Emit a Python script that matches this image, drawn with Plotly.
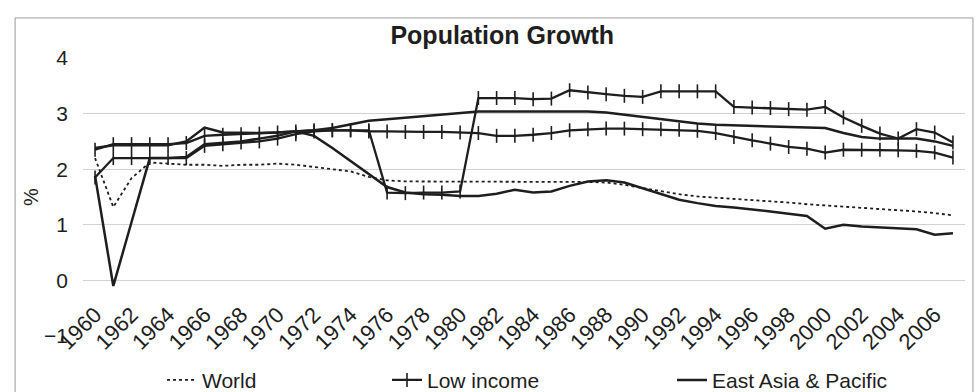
import plotly.graph_objects as go

years = list(range(1960, 2008))

world = [2.20, 1.32, 1.84, 2.12, 2.10, 2.08, 2.08, 2.06, 2.08, 2.08,
         2.10, 2.08, 2.04, 2.00, 1.96, 1.86, 1.80, 1.78, 1.78, 1.78,
         1.78, 1.77, 1.77, 1.77, 1.77, 1.77, 1.77, 1.77, 1.76, 1.72,
         1.66, 1.60, 1.55, 1.51, 1.49, 1.47, 1.45, 1.43, 1.40, 1.37,
         1.35, 1.32, 1.30, 1.28, 1.26, 1.24, 1.21, 1.17]

low_income = [1.85, 2.20, 2.20, 2.20, 2.20, 2.20, 2.42, 2.45, 2.48, 2.50,
              2.55, 2.63, 2.68, 2.70, 2.70, 2.68, 2.68, 2.67, 2.67, 2.67,
              2.66, 2.65, 2.60, 2.60, 2.62, 2.65, 2.70, 2.72, 2.73, 2.73,
              2.72, 2.72, 2.71, 2.69, 2.65, 2.58, 2.52, 2.46, 2.40, 2.37,
              2.30, 2.35, 2.35, 2.35, 2.34, 2.33, 2.30, 2.21]

east_asia = [1.88, -0.10, 1.05, 2.20, 2.20, 2.22, 2.45, 2.48, 2.50, 2.55,
             2.60, 2.68, 2.60, 2.38, 2.15, 1.92, 1.68, 1.58, 1.55, 1.54,
             1.52, 1.52, 1.56, 1.63, 1.58, 1.60, 1.70, 1.78, 1.80, 1.76,
             1.66, 1.55, 1.45, 1.39, 1.34, 1.31, 1.28, 1.24, 1.20, 1.16,
             0.93, 1.00, 0.97, 0.95, 0.94, 0.92, 0.82, 0.85]

# two further series drawn in the chart whose legend entries are not visible
series_a = [2.35, 2.45, 2.45, 2.45, 2.45, 2.47, 2.60, 2.62, 2.63, 2.64,
            2.66, 2.68, 2.70, 2.70, 2.70, 2.70, 1.58, 1.57, 1.58, 1.58,
            1.60, 3.28, 3.28, 3.28, 3.26, 3.27, 3.42, 3.38, 3.35, 3.32,
            3.30, 3.40, 3.40, 3.40, 3.40, 3.12, 3.11, 3.10, 3.08, 3.07,
            3.12, 2.93, 2.78, 2.64, 2.55, 2.72, 2.66, 2.48]

series_b = [2.38, 2.43, 2.43, 2.43, 2.43, 2.50, 2.75, 2.66, 2.65, 2.65,
            2.66, 2.68, 2.70, 2.74, 2.80, 2.87, 2.90, 2.93, 2.96, 2.99,
            3.02, 3.04, 3.04, 3.04, 3.05, 3.05, 3.05, 3.04, 3.02, 2.98,
            2.93, 2.89, 2.85, 2.82, 2.80, 2.79, 2.78, 2.78, 2.77, 2.76,
            2.74, 2.65, 2.58, 2.55, 2.55, 2.55, 2.50, 2.42]

x_ticks = list(range(1960, 2007, 2))
y_ticks = [0, 1, 2, 3, 4]
y_low_tick = [-1]
y_range = [-1, 4]

ink = "#1e1e1e"
plus_marker = dict(symbol="line-ns", size=10, color=ink, line=dict(width=1.6, color=ink))

fig = go.Figure()
fig.add_trace(go.Scatter(x=years, y=series_b, mode="lines", showlegend=False, yaxis="y2",
                         line=dict(color=ink, width=2.5), hoverinfo="skip"))
fig.add_trace(go.Scatter(x=years, y=series_a, mode="lines+markers", showlegend=False,
                         line=dict(color=ink, width=2.3), marker=plus_marker, hoverinfo="skip"))
fig.add_trace(go.Scatter(x=years, y=world, name="World", mode="lines", legend="legend",
                         line=dict(color=ink, width=1.8, dash="dot")))
fig.add_trace(go.Scatter(x=years, y=low_income, name="Low income", mode="lines+markers",
                         legend="legend2", line=dict(color=ink, width=2.3), marker=plus_marker))
fig.add_trace(go.Scatter(x=years, y=east_asia, name="East Asia & Pacific", mode="lines",
                         legend="legend3", line=dict(color=ink, width=2.5)))

legend_common = dict(orientation="h", xref="container", yref="container", y=0.03,
                     yanchor="middle", xanchor="left", bgcolor="rgba(0,0,0,0)",
                     font=dict(size=21, color=ink), itemwidth=30)

fig.update_layout(
    width=979, height=392,
    margin=dict(l=83, r=14, t=58, b=56, autoexpand=False),
    paper_bgcolor="white", plot_bgcolor="white",
    font=dict(family="Liberation Sans, Arial, sans-serif", color=ink),
    title=dict(text="<b>Population Growth</b>", x=0.513, xref="container", xanchor="center",
               y=0.91, yref="container", yanchor="middle", font=dict(size=25, color=ink)),
    xaxis=dict(range=[1959.34, 2007.66], tickvals=x_ticks, tickangle=-45,
               anchor="free", position=0.142, showgrid=False, zeroline=False,
               showline=False, ticks="", tickfont=dict(size=22, color=ink)),
    yaxis=dict(range=y_range, tickvals=y_ticks, showgrid=True, gridcolor="#d2d2d2",
               gridwidth=1, zeroline=False, showline=False, ticks="",
               ticklabelstandoff=14, tickfont=dict(size=21, color=ink),
               title=dict(text="%", font=dict(size=20, color=ink), standoff=12)),
    yaxis2=dict(overlaying="y", side="left", range=y_range, tickvals=y_low_tick,
                showgrid=False, zeroline=False, showline=False, ticks="",
                ticklabelstandoff=14, tickfont=dict(size=21, color=ink)),
    legend=dict(legend_common, x=162 / 979),
    legend2=dict(legend_common, x=387 / 979),
    legend3=dict(legend_common, x=672 / 979),
    shapes=[dict(type="rect", xref="paper", yref="paper", x0=-0.077, x1=1.009,
                 y0=-0.5, y1=1.144, line=dict(color="#9a9a9a", width=1), layer="below")],
)

fig.write_html("out.html")
